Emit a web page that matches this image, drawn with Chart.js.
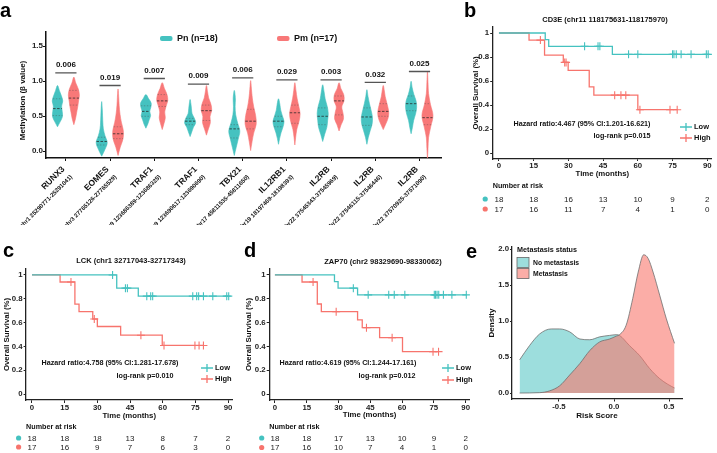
<!DOCTYPE html>
<html>
<head>
<meta charset="utf-8">
<script src="https://cdn.jsdelivr.net/npm/chart.js@4.4.0/dist/chart.umd.min.js"></script>
<style>
  body { margin: 0; background: #fff; }
  #wrap { position: relative; width: 717px; height: 453px; overflow: hidden; background: #fff;
          font-family: "Liberation Sans", Arial, sans-serif; }
  #wrap canvas { position: absolute; }
  .lab { position: absolute; font-weight: bold; font-size: 20px; line-height: 1; color: #000; }
</style>
</head>
<body>
<div id="wrap">
  <canvas id="ca" width="480" height="225" style="left:0;top:0"></canvas>
  <canvas id="cb" width="247" height="225" style="left:470px;top:0"></canvas>
  <canvas id="cc" width="240" height="228" style="left:0;top:225px"></canvas>
  <canvas id="cd" width="235" height="228" style="left:240px;top:225px"></canvas>
  <canvas id="ce" width="237" height="228" style="left:480px;top:225px"></canvas>
  <div class="lab" style="left:0;top:0">a</div>
  <div class="lab" style="left:464px;top:0">b</div>
  <div class="lab" style="left:3px;top:240px">c</div>
  <div class="lab" style="left:244px;top:240px">d</div>
  <div class="lab" style="left:466px;top:241px">e</div>
</div>
<script>
const F = '"Liberation Sans", Arial, sans-serif';
const TEAL = "#45c2c0";
const RED = "#f7746d";
Chart.defaults.font.family = F;

// ---- panel a: methylation violins
const genes = ["RUNX3", "EOMES", "TRAF1", "TRAF1", "TBX21", "IL12RB1", "IL2RB", "IL2RB", "IL2RB"];
const coords = [
  "(chr1 25290771-25291041)", "(chr3 27765126-27765529)", "(chr9 123686389-123686325)",
  "(chr9 123690617-123690690)", "(chr17 45811535-45811650)", "(chr19 18197469-18198393)",
  "(chr22 37545343-37545969)", "(chr22 37546115-37546446)", "(chr22 37570925-37571090)"
];
const pValues = ["0.006", "0.019", "0.007", "0.009", "0.006", "0.029", "0.003", "0.032", "0.025"];
const bracketY = [1.12, 0.94, 1.04, 0.96, 1.05, 1.02, 1.02, 0.985, 1.14];
const methTicks = [0, 0.5, 1.0, 1.5];

// [min, max] of each violin and its width profile from bottom to top
const pnRange = [[0.35, 0.94], [-0.07, 0.71], [0.33, 0.81], [0.21, 0.74], [-0.06, 0.87], [0.10, 0.75], [0.14, 0.95], [0.10, 0.88], [0.25, 1.00]];
const pnShape = [
  [0.5, 0.9, 0.85, 0.75, 0.95, 0.7, 0.35],
  [0.6, 1.0, 0.6, 0.3, 0.2, 0.15, 0.1],
  [0.35, 0.6, 0.85, 0.7, 0.9, 0.95, 0.5],
  [0.3, 0.6, 1.0, 0.75, 0.35, 0.25, 0.15],
  [0.35, 0.7, 1.0, 0.6, 0.25, 0.15, 0.2],
  [0.2, 0.45, 0.8, 1.0, 0.7, 0.4, 0.25],
  [0.35, 0.75, 0.9, 1.0, 0.8, 0.45, 0.25],
  [0.25, 0.6, 0.95, 1.0, 0.75, 0.45, 0.2],
  [0.25, 0.45, 0.8, 1.0, 0.9, 0.5, 0.2]
];
const pnQuart = [[0.51, 0.61, 0.75], [0.09, 0.14, 0.20], [0.50, 0.57, 0.65], [0.38, 0.43, 0.47], [0.19, 0.32, 0.38],
                 [0.35, 0.43, 0.50], [0.38, 0.50, 0.62], [0.37, 0.49, 0.62], [0.58, 0.68, 0.79]];
const pmRange = [[0.38, 1.06], [-0.06, 0.89], [0.31, 0.98], [0.23, 0.94], [0.01, 1.01], [0.09, 0.98], [0.29, 0.98], [0.31, 0.94], [-0.12, 1.14]];
const pmShape = [
  [0.3, 0.5, 0.7, 0.85, 1.0, 0.8, 0.35],
  [0.4, 0.9, 0.95, 0.6, 0.35, 0.2, 0.12],
  [0.3, 0.55, 0.45, 0.7, 1.0, 0.85, 0.4],
  [0.35, 0.7, 0.65, 0.95, 0.8, 0.4, 0.2],
  [0.25, 0.55, 1.0, 0.9, 0.55, 0.3, 0.15],
  [0.15, 0.35, 0.75, 0.95, 0.7, 0.4, 0.2],
  [0.35, 0.8, 0.7, 0.5, 0.9, 0.85, 0.35],
  [0.45, 0.85, 1.0, 0.85, 0.6, 0.35, 0.2],
  [0.1, 0.2, 0.6, 1.0, 0.55, 0.2, 0.1]
];
const pmQuart = [[0.66, 0.76, 0.87], [0.18, 0.25, 0.35], [0.64, 0.72, 0.81], [0.44, 0.58, 0.66], [0.32, 0.43, 0.60],
                 [0.40, 0.55, 0.66], [0.52, 0.72, 0.79], [0.50, 0.57, 0.68], [0.38, 0.48, 0.68]];

// ---- panels b-d: Kaplan-Meier
const kmTicks = [0, 15, 30, 45, 60, 75, 90];
const survTicks = [0, 0.2, 0.4, 0.6, 0.8, 1];

const cd3eLowTime = [0, 20, 21.5, 49, 90.7];
const cd3eLowSurv = [1, 0.944, 0.889, 0.822, 0.822];
const cd3eLowCensor = [37, 42.8, 43.6, 56, 60, 75, 75.6, 76.6, 78.7, 83, 89.6, 90.4];
const cd3eHighTime = [0, 13, 19.7, 27.8, 29.9, 39, 41, 60, 77];
const cd3eHighSurv = [1, 0.941, 0.816, 0.755, 0.689, 0.551, 0.482, 0.361, 0.361];
const cd3eHighCensor = [17.9, 28.4, 29.0, 50, 52.7, 54.8, 60.9, 73.9, 77];
const cd3eRiskLow = [18, 18, 16, 13, 10, 9, 2];
const cd3eRiskHigh = [17, 16, 11, 7, 4, 1, 0];

const lckLowTime = [0, 38.9, 48.8, 90.5];
const lckLowSurv = [1, 0.889, 0.822, 0.822];
const lckLowCensor = [37, 42.9, 43.8, 52.7, 54.5, 55.4, 73.8, 75.6, 76.5, 78.7, 83, 89.4, 90.3];
const lckHighTime = [0, 12.9, 19.7, 21.6, 27.9, 30, 40.7, 59.8, 78.7];
const lckHighSurv = [1, 0.941, 0.755, 0.692, 0.63, 0.567, 0.494, 0.408, 0.408];
const lckHighCensor = [17.9, 28.6, 50, 60.6, 74.8, 76.7, 78.7];
const lckRiskLow = [18, 18, 18, 13, 8, 7, 2];
const lckRiskHigh = [17, 16, 9, 7, 6, 3, 0];

const zapLowTime = [0, 28.1, 29.8, 39, 90.5];
const zapLowSurv = [1, 0.944, 0.889, 0.833, 0.833];
const zapLowCensor = [37, 44, 53.7, 56.3, 61.3, 75.2, 75.8, 76.5, 77.3, 79.5, 83.5, 90.3];
const zapHighTime = [0, 12.8, 20, 21.9, 39, 41.2, 49.4, 60.2, 77.2];
const zapHighSurv = [1, 0.941, 0.756, 0.692, 0.622, 0.557, 0.473, 0.356, 0.356];
const zapHighCensor = [18, 28.9, 43.2, 55.3, 74.6, 77.2];
const zapRiskLow = [18, 18, 17, 13, 10, 9, 2];
const zapRiskHigh = [17, 16, 10, 7, 4, 1, 0];

// ---- panel e: risk score density
const noMetScore = [-0.858, -0.767, -0.676, -0.57, -0.494, -0.403, -0.31, -0.22, -0.13, -0.04, 0.02, 0.05, 0.14, 0.233, 0.324, 0.415, 0.49, 0.55];
const noMetDensity = [0.46, 0.66, 0.82, 0.89, 0.89, 0.85, 0.75, 0.74, 0.78, 0.80, 0.81, 0.80, 0.66, 0.52, 0.34, 0.20, 0.12, 0.07];
const metScore = [-0.858, -0.676, -0.585, -0.494, -0.403, -0.31, -0.22, -0.13, -0.04, 0.02, 0.05, 0.11, 0.17, 0.22, 0.27, 0.31, 0.355, 0.415, 0.476, 0.55];
const metDensity = [0.0, 0.005, 0.03, 0.1, 0.25, 0.41, 0.59, 0.71, 0.75, 0.79, 0.81, 0.94, 1.31, 1.68, 1.92, 1.87, 1.68, 1.36, 1.03, 0.69];
const densTicksX = [-0.5, 0, 0.5];
const densTicksY = [0, 0.5, 1.0, 1.5, 2.0];

// ---------------------------------------------------------------
const VW = 0.125;     // max half width of a violin, in category units
const PN_OFF = -0.19;
const PM_OFF = 0.18;

function violinPoints(c, range, shape) {
  const [lo, hi] = range;
  const n = shape.length + 1;
  const pts = [{ x: c, y: lo }];
  for (let i = 0; i < shape.length; i++) pts.push({ x: c + shape[i] * VW, y: lo + (hi - lo) * (i + 1) / n });
  pts.push({ x: c, y: hi });
  for (let i = shape.length - 1; i >= 0; i--) pts.push({ x: c - shape[i] * VW, y: lo + (hi - lo) * (i + 1) / n });
  pts.push({ x: c, y: lo });
  return pts;
}

function halfWidth(range, shape, v) {
  const [lo, hi] = range;
  const prof = [0, ...shape, 0];
  const n = prof.length - 1;
  const f = (v - lo) / (hi - lo) * n;
  const i = Math.max(0, Math.min(Math.floor(f), n - 1));
  return (prof[i] + (prof[i + 1] - prof[i]) * (f - i)) * VW;
}

const medianPts = [];
const quartPts = [];
const violinSets = [];
genes.forEach((g, i) => {
  [[i + PN_OFF, pnRange[i], pnShape[i], pnQuart[i], TEAL], [i + PM_OFF, pmRange[i], pmShape[i], pmQuart[i], "#f87878"]]
    .forEach(([c, range, shape, q, col]) => {
      violinSets.push({
        data: violinPoints(c, range, shape), fill: "shape", backgroundColor: col, borderColor: col,
        borderWidth: 0.6, pointRadius: 0, tension: 0.35, order: 2
      });
      [q[0], q[2]].forEach(v => {
        const w = halfWidth(range, shape, v);
        quartPts.push({ x: c - w, y: v }, { x: c + w, y: v }, { x: c, y: null });
      });
      const wm = halfWidth(range, shape, q[1]);
      medianPts.push({ x: c - wm, y: q[1] }, { x: c + wm, y: q[1] }, { x: c, y: null });
    });
});

const bracketPts = [];
bracketY.forEach((v, i) => bracketPts.push({ x: i - 0.24, y: v }, { x: i + 0.24, y: v }, { x: i, y: null }));

const methExtras = {
  id: "methExtras",
  afterDraw(chart) {
    const { ctx, scales: { x, y } } = chart;
    ctx.save();
    ctx.fillStyle = "#111";
    // p values
    ctx.font = "bold 8px " + F;
    ctx.textAlign = "center";
    ctx.textBaseline = "middle";
    pValues.forEach((p, i) => ctx.fillText(p, x.getPixelForValue(i), y.getPixelForValue(bracketY[i]) - 8));
    // gene labels
    genes.forEach((g, i) => {
      ctx.save();
      ctx.translate(x.getPixelForValue(i) - 2.5, y.bottom + 10);
      ctx.rotate(-Math.PI / 4);
      ctx.textAlign = "right";
      ctx.font = "bold 8.5px " + F;
      ctx.fillText(g, 0, 0);
      ctx.font = "bold 6px " + F;
      ctx.fillText(coords[i], 0, 11.5);
      ctx.restore();
    });
    // y title
    ctx.save();
    ctx.translate(23, 100.5);
    ctx.rotate(-Math.PI / 2);
    ctx.font = "bold 8px " + F;
    ctx.fillText("Methylation (\u03b2 value)", 0, 0);
    ctx.restore();
    // legend
    [[160, TEAL, "Pn (n=18)"], [277, "#f87878", "Pm (n=17)"]].forEach(([lx, col, txt]) => {
      ctx.fillStyle = col;
      ctx.beginPath();
      if (ctx.roundRect) ctx.roundRect(lx, 36, 12.5, 5, 2); else ctx.rect(lx, 36, 12.5, 5);
      ctx.fill();
      ctx.fillStyle = "#111";
      ctx.font = "bold 9px " + F;
      ctx.textAlign = "left";
      ctx.fillText(txt, lx + 17, 38.8);
    });
    ctx.restore();
  }
};

new Chart(document.getElementById("ca"), {
  type: "line",
  data: {
    datasets: [
      { data: medianPts, borderColor: "rgba(40,40,40,0.85)", borderWidth: 0.9, borderDash: [2.5, 1.5], pointRadius: 0, order: 0 },
      { data: quartPts, borderColor: "rgba(70,70,70,0.45)", borderWidth: 0.8, borderDash: [1.5, 1.5], pointRadius: 0, order: 0 },
      { data: bracketPts, borderColor: "#555", borderWidth: 1.3, pointRadius: 0, order: 0 },
      ...violinSets
    ]
  },
  options: {
    responsive: false, animation: false, events: [],
    layout: { padding: { left: 0, top: 32, right: 480 - 441.6, bottom: 0 } },
    plugins: { legend: { display: false }, tooltip: { enabled: false } },
    scales: {
      x: {
        type: "linear", min: -0.45, max: 8.5,
        afterBuildTicks: s => { s.ticks = genes.map((g, i) => ({ value: i })); },
        afterFit: s => { s.height = 225 - 158; },
        border: { display: true, color: "#111", width: 1.5 },
        grid: { drawOnChartArea: false, drawTicks: true, tickLength: 3, color: "#111", lineWidth: 1 },
        ticks: { display: false }
      },
      y: {
        min: -0.096, max: 1.704,
        afterBuildTicks: s => { s.ticks = methTicks.map(v => ({ value: v })); },
        afterFit: s => { s.width = 46; },
        border: { display: true, color: "#111", width: 1.5 },
        grid: { drawOnChartArea: false, drawTicks: true, tickLength: 3, color: "#111", lineWidth: 1 },
        ticks: { font: { size: 8, weight: "bold" }, color: "#222", padding: 0, callback: v => v.toFixed(1) }
      }
    }
  },
  plugins: [methExtras]
});

// ---------------------------------------------------------------
function survAt(T, S, t) {
  let s = S[0];
  for (let i = 0; i < T.length; i++) if (T[i] <= t) s = S[i];
  return s;
}

function legendMark(ctx, x, y, col) {
  ctx.strokeStyle = col;
  ctx.lineWidth = 1.3;
  ctx.beginPath();
  ctx.moveTo(x - 6, y); ctx.lineTo(x + 6, y);
  ctx.moveTo(x, y - 4); ctx.lineTo(x, y + 4);
  ctx.stroke();
}

const kmExtras = {
  id: "kmExtras",
  afterDraw(chart, args, o) {
    const { ctx, scales: { x } } = chart;
    ctx.save();
    ctx.fillStyle = "#111";
    ctx.textBaseline = "middle";
    ctx.textAlign = "center";
    ctx.font = "bold 7.5px " + F;
    ctx.fillText(o.title, o.titleX, o.titleY);
    ctx.font = "bold 7.2px " + F;
    ctx.fillText(o.hazard, o.hzX, o.hzY);
    ctx.fillText(o.logrank, o.lrX, o.lrY);
    // legend
    ctx.textAlign = "left";
    ctx.font = "bold 7.5px " + F;
    [[TEAL, "Low"], [RED, "High"]].forEach(([col, txt], k) => {
      legendMark(ctx, o.legX, o.legY[k], col);
      ctx.fillStyle = "#111";
      ctx.fillText(txt, o.legX + 8, o.legY[k]);
    });
    // number at risk table
    ctx.font = "bold 7.2px " + F;
    ctx.fillText("Number at risk", x.left, o.nrY);
    ctx.font = "8px " + F;
    ctx.textAlign = "center";
    [[TEAL, o.riskLow], [RED, o.riskHigh]].forEach(([col, vals], k) => {
      ctx.fillStyle = col;
      ctx.beginPath();
      ctx.arc(x.left - 7.5, o.rowY[k], 2.6, 0, Math.PI * 2);
      ctx.fill();
      ctx.fillStyle = "#222";
      kmTicks.forEach((t, i) => ctx.fillText(String(vals[i]), x.getPixelForValue(t), o.rowY[k] + 0.5));
    });
    ctx.restore();
  }
};

function makeKM(id, W, H, area, km, look) {
  const line = (T, S) => T.map((t, i) => ({ x: t, y: S[i] }));
  const cens = (T, S, C) => C.map(t => ({ x: t, y: survAt(T, S, t) }));
  new Chart(document.getElementById(id), {
    type: "line",
    data: {
      datasets: [
        { data: line(km.lowT, km.lowS), stepped: "before", borderColor: TEAL, borderWidth: 1.3, pointRadius: 0 },
        { data: line(km.highT, km.highS), stepped: "before", borderColor: RED, borderWidth: 1.3, pointRadius: 0 },
        { data: cens(km.lowT, km.lowS, km.lowC), showLine: false, pointStyle: "cross", pointRadius: 4,
          pointBorderColor: TEAL, pointBorderWidth: 1.1 },
        { data: cens(km.highT, km.highS, km.highC), showLine: false, pointStyle: "cross", pointRadius: 4,
          pointBorderColor: RED, pointBorderWidth: 1.1 }
      ]
    },
    options: {
      responsive: false, animation: false, events: [],
      layout: { padding: { left: 0, top: area.t, right: W - area.r, bottom: 0 } },
      plugins: { legend: { display: false }, tooltip: { enabled: false }, kmExtras: look },
      scales: {
        x: {
          type: "linear", min: -2.7, max: 92,
          afterBuildTicks: s => { s.ticks = kmTicks.map(v => ({ value: v })); },
          afterFit: s => { s.height = H - area.b; },
          border: { display: true, color: "#222", width: 1.3 },
          grid: { drawOnChartArea: false, drawTicks: true, tickLength: look.tickLen, color: "#222", lineWidth: 1 },
          ticks: { font: { size: 7.8, weight: "bold" }, color: "#222", padding: 0, maxRotation: 0, autoSkip: false },
          title: { display: true, text: "Time (months)", color: "#111", font: { size: 7.8, weight: "bold" },
                   padding: { top: 0, bottom: H - look.xTitleY - 4.7 } }
        },
        y: {
          min: -0.05, max: 1.05,
          afterBuildTicks: s => { s.ticks = survTicks.map(v => ({ value: v })); },
          afterFit: s => { s.width = area.l; },
          border: { display: true, color: "#222", width: 1.3 },
          grid: { drawOnChartArea: false, drawTicks: true, tickLength: 2.5, color: "#222", lineWidth: 1 },
          ticks: { font: { size: 7.8, weight: "bold" }, color: "#222", padding: 1,
                   callback: v => (v === 0 ? "0" : v === 1 ? "1" : v.toFixed(1)) },
          title: { display: true, text: "Overall Survival (%)", color: "#111", font: { size: 7.8, weight: "bold" },
                   padding: { top: look.yTitleX - 4.7, bottom: 0 } }
        }
      }
    },
    plugins: [kmExtras]
  });
}

makeKM("cb", 247, 225, { l: 22.7, r: 242.6, t: 27, b: 159 },
  { lowT: cd3eLowTime, lowS: cd3eLowSurv, lowC: cd3eLowCensor, highT: cd3eHighTime, highS: cd3eHighSurv, highC: cd3eHighCensor },
  { title: "CD3E (chr11 118175631-118175970)", titleX: 135, titleY: 20,
    hazard: "Hazard ratio:4.467 (95% CI:1.201-16.621)", hzX: 112, hzY: 124,
    logrank: "log-rank p=0.015", lrX: 152, lrY: 136, legX: 216, legY: [127, 138],
    nrY: 186, rowY: [199, 209], riskLow: cd3eRiskLow, riskHigh: cd3eRiskHigh,
    tickLen: 2, xTitleY: 174, yTitleX: 6 });

makeKM("cc", 240, 228, { l: 26.1, r: 232.4, t: 44, b: 175 },
  { lowT: lckLowTime, lowS: lckLowSurv, lowC: lckLowCensor, highT: lckHighTime, highS: lckHighSurv, highC: lckHighCensor },
  { title: "LCK (chr1 32717043-32717343)", titleX: 131, titleY: 36,
    hazard: "Hazard ratio:4.758 (95% CI:1.281-17.678)", hzX: 110, hzY: 138,
    logrank: "log-rank p=0.010", lrX: 145, lrY: 151, legX: 207, legY: [143, 154],
    nrY: 202, rowY: [213, 222], riskLow: lckRiskLow, riskHigh: lckRiskHigh,
    tickLen: 3, xTitleY: 190.7, yTitleX: 7 });

makeKM("cd", 235, 228, { l: 29.2, r: 233.3, t: 44, b: 175 },
  { lowT: zapLowTime, lowS: zapLowSurv, lowC: zapLowCensor, highT: zapHighTime, highS: zapHighSurv, highC: zapHighCensor },
  { title: "ZAP70 (chr2 98329690-98330062)", titleX: 143, titleY: 37,
    hazard: "Hazard ratio:4.619 (95% CI:1.244-17.161)", hzX: 108, hzY: 138,
    logrank: "log-rank p=0.012", lrX: 147, lrY: 151, legX: 208, legY: [143, 155],
    nrY: 202, rowY: [213, 222.5], riskLow: zapRiskLow, riskHigh: zapRiskHigh,
    tickLen: 3, xTitleY: 190, yTitleX: 9 });

// ---------------------------------------------------------------
const NOMET_FILL = "rgba(60,190,188,0.5)";
const MET_FILL = "rgba(248,118,109,0.6)";

const densExtras = {
  id: "densExtras",
  afterDraw(chart) {
    const { ctx } = chart;
    ctx.save();
    ctx.fillStyle = "#111";
    ctx.textBaseline = "middle";
    ctx.textAlign = "left";
    ctx.font = "bold 7.2px " + F;
    ctx.fillText("Metastasis status", 37, 25);
    [[NOMET_FILL, "No metastasis", 32.5], [MET_FILL, "Metastasis", 43.5]].forEach(([col, txt, by]) => {
      ctx.fillStyle = "#fff";
      ctx.fillRect(37, by, 12, 10);
      ctx.fillStyle = col;
      ctx.fillRect(37, by, 12, 10);
      ctx.strokeStyle = "#666";
      ctx.lineWidth = 0.8;
      ctx.strokeRect(37, by, 12, 10);
      ctx.fillStyle = "#111";
      ctx.font = "bold 6.8px " + F;
      ctx.fillText(txt, 53, by + 5.5);
    });
    ctx.restore();
  }
};

new Chart(document.getElementById("ce"), {
  type: "line",
  data: {
    datasets: [
      { data: metScore.map((v, i) => ({ x: v, y: metDensity[i] })), fill: "origin", backgroundColor: MET_FILL,
        borderColor: "#6e6e6e", borderWidth: 0.8, pointRadius: 0, cubicInterpolationMode: "monotone", order: 0 },
      { data: noMetScore.map((v, i) => ({ x: v, y: noMetDensity[i] })), fill: "origin", backgroundColor: NOMET_FILL,
        borderColor: "#6e6e6e", borderWidth: 0.8, pointRadius: 0, cubicInterpolationMode: "monotone", order: 1 }
    ]
  },
  options: {
    responsive: false, animation: false, events: [],
    layout: { padding: { left: 0, top: 22, right: 237 - 202, bottom: 0 } },
    plugins: { legend: { display: false }, tooltip: { enabled: false } },
    scales: {
      x: {
        type: "linear", min: -0.927, max: 0.618,
        afterBuildTicks: s => { s.ticks = densTicksX.map(v => ({ value: v })); },
        afterFit: s => { s.height = 228 - 174; },
        border: { display: true, color: "#222", width: 1.3 },
        grid: { drawOnChartArea: false, drawTicks: true, tickLength: 2.5, color: "#222", lineWidth: 1 },
        ticks: { font: { size: 7.8, weight: "bold" }, color: "#222", padding: 0.7, maxRotation: 0,
                 callback: v => v.toFixed(1) },
        title: { display: true, text: "Risk Score", color: "#111", font: { size: 8, weight: "bold" },
                 padding: { top: 0, bottom: 228 - 191 - 4.8 } }
      },
      y: {
        min: -0.083, max: 2.028,
        afterBuildTicks: s => { s.ticks = densTicksY.map(v => ({ value: v })); },
        afterFit: s => { s.width = 32; },
        border: { display: true, color: "#222", width: 1.3 },
        grid: { drawOnChartArea: false, drawTicks: true, tickLength: 2, color: "#222", lineWidth: 1 },
        ticks: { font: { size: 7.8, weight: "bold" }, color: "#222", padding: 1, callback: v => v.toFixed(1) },
        title: { display: true, text: "Density", color: "#111", font: { size: 8, weight: "bold" },
                 padding: { top: 12 - 4.8, bottom: 0 } }
      }
    }
  },
  plugins: [densExtras]
});
</script>
</body>
</html>
